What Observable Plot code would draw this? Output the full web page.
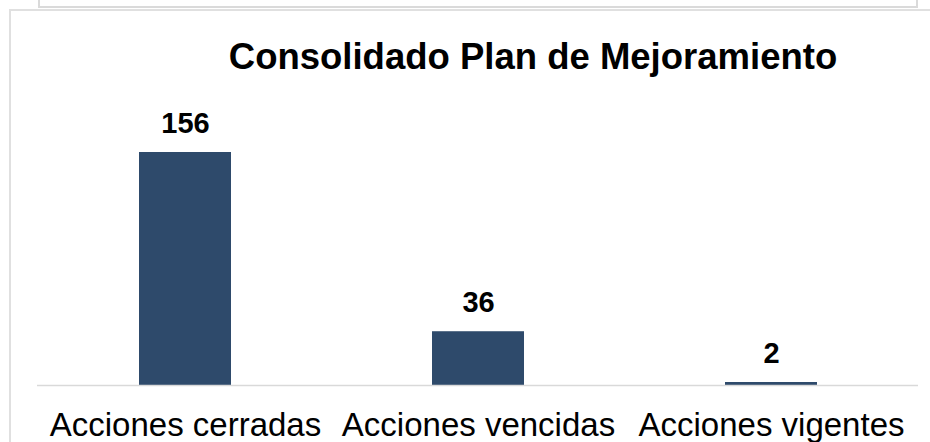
<!DOCTYPE html>
<html>
<head>
<meta charset="utf-8">
<script src="https://cdn.jsdelivr.net/npm/d3@7"></script>
<script src="https://cdn.jsdelivr.net/npm/@observablehq/plot@0.6"></script>
<style>
  html, body { margin: 0; padding: 0; background: #fff; width: 930px; height: 442px; overflow: hidden; }
  #wrap { position: relative; width: 930px; height: 442px; }
  #topbox { position: absolute; left: 38px; top: -20px; width: 876px; height: 24px; border: 2px solid #dadada; box-sizing: content-box; }
  #outer { position: absolute; left: 9px; top: 9px; width: 960px; height: 500px; border-left: 2px solid #e0e0e0; border-top: 2px solid #e0e0e0; }
  #chart { position: absolute; left: 0; top: 0; }
  svg { font-family: "Liberation Sans", Arial, sans-serif; }
</style>
</head>
<body>
<div id="wrap">
  <div id="topbox"></div>
  <div id="outer"></div>
  <div id="chart"></div>
</div>
<script>
const title = "Consolidado Plan de Mejoramiento";
const categories = ["Acciones cerradas", "Acciones vencidas", "Acciones vigentes"];
const values = [156, 36, 2];

const data = categories.map((c, i) => ({category: c, value: values[i]}));

const chart = Plot.plot({
  width: 930,
  height: 442,
  marginLeft: 37,
  marginRight: 12,
  marginTop: 0,
  marginBottom: 57,
  style: {background: "transparent", fontFamily: "'Liberation Sans', Arial, sans-serif", overflow: "visible"},
  x: {domain: categories, paddingInner: 0.687, paddingOuter: 0.3435, label: null},
  y: {domain: [0, 156], range: [385, 152], axis: null},
  marks: [
    Plot.barY(data, {x: "category", y: "value", fill: "#2e4a6b"}),
    Plot.ruleY([0], {stroke: "#d9d9d9", strokeWidth: 1.5}),
    Plot.text(data, {x: "category", y: "value", text: d => String(d.value), dy: -20, lineAnchor: "bottom", fontSize: 29, fontWeight: "bold", fill: "#000"}),
    Plot.axisX({tickSize: 0, tickPadding: 27, fontSize: 33, fill: "#000", label: null}),
    Plot.text([title], {frameAnchor: "top", text: d => d, dx: 55, dy: 68, lineAnchor: "bottom", fontSize: 36.5, fontWeight: "bold", fill: "#000"})
  ]
});
document.getElementById("chart").appendChild(chart);
</script>
</body>
</html>
